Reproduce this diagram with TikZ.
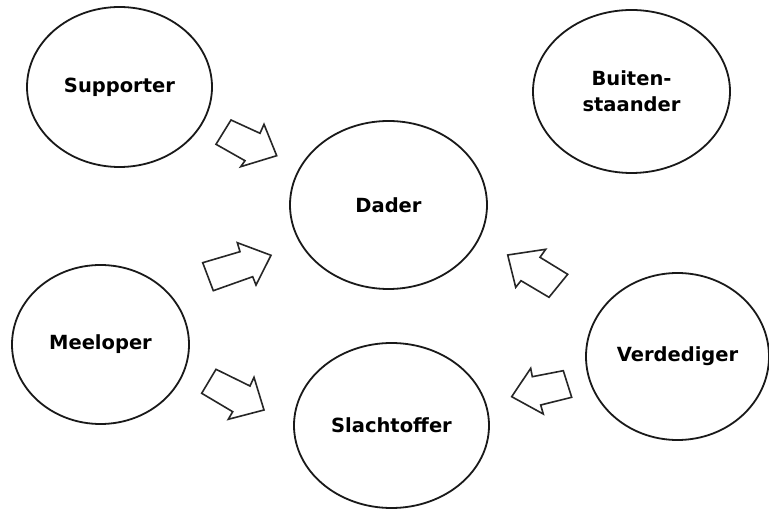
\documentclass[tikz,border=0pt]{standalone}
\usepackage{fontspec}
\setmainfont{DejaVu Sans}
\usetikzlibrary{shapes.geometric}
\begin{document}
\begin{tikzpicture}[x=1pt,y=-1pt,
  role/.style={draw=black!90, line width=1.8pt, ellipse, inner sep=0pt,
    font=\fontsize{19.5}{26}\selectfont\bfseries, align=center, text=black},
  blockarrow/.style={draw=black!85, line width=1.6pt, fill=white, line join=miter}]
\useasboundingbox (0,0) rectangle (769,510);
\fill[white] (0,0) rectangle (769,510);
% roles
\node[role, minimum width=185pt, minimum height=160pt] (sup) at (119.5,87) {Supporter};
\node[role, minimum width=197pt, minimum height=163pt] (bui) at (631.5,91.5) {Buiten-\\staander};
\node[role, minimum width=197pt, minimum height=168pt] (dad) at (388.5,205) {Dader};
\node[role, minimum width=177pt, minimum height=159pt] (mee) at (100.5,344.5) {Meeloper};
\node[role, minimum width=195pt, minimum height=165pt] (sla) at (391.5,425.5) {Slachtoffer};
\node[role, minimum width=183pt, minimum height=167pt] (ver) at (677.5,356.5) {Verdediger};
% block arrows
% Supporter -> Dader
\draw[blockarrow] (231,120) -- (260,133.3) -- (264,124.3) -- (276.7,155.7)
  -- (240.7,166.7) -- (245,160.7) -- (216,144.3) -- cycle;
% Meeloper -> Dader
\draw[blockarrow] (202.7,262.7) -- (240,251.7) -- (237.3,242.7) -- (271,255.3)
  -- (256,285) -- (252.7,276.7) -- (213.3,290.7) -- cycle;
% Meeloper -> Slachtoffer
\draw[blockarrow] (216,369.3) -- (250,386) -- (254,377.3) -- (264,410)
  -- (228.3,419.3) -- (232.7,411.7) -- (201.7,393.3) -- cycle;
% Verdediger -> Dader
\draw[blockarrow] (507.7,255) -- (545.7,249.3) -- (540,257.3) -- (567.7,274.3)
  -- (549,297.3) -- (521,280.7) -- (515.7,287.3) -- cycle;
% Verdediger -> Slachtoffer
\draw[blockarrow] (511.7,396.7) -- (530.7,368.3) -- (532.3,376.7) -- (563.3,370.7)
  -- (571.7,397.3) -- (540.7,405) -- (543.3,414) -- cycle;
\end{tikzpicture}
\end{document}
